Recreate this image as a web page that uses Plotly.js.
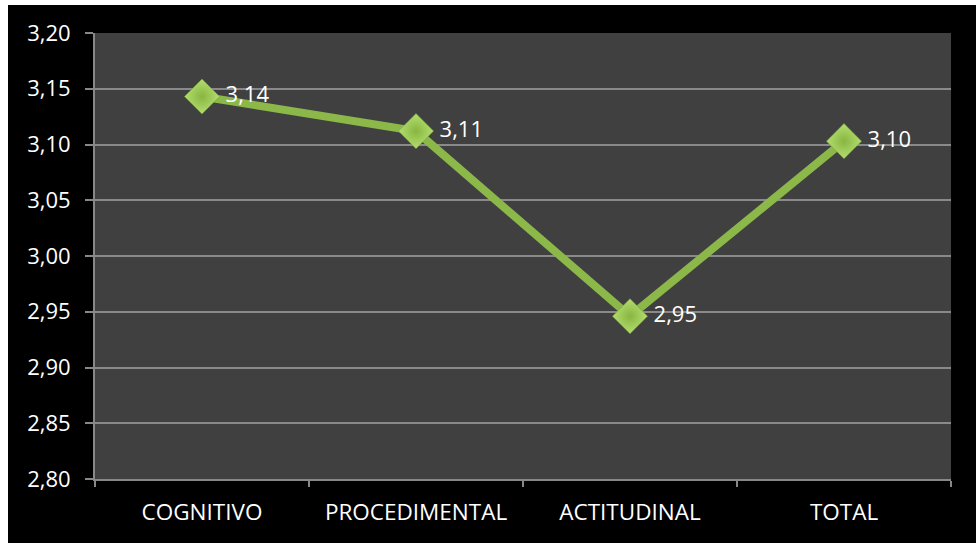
<!DOCTYPE html>
<html>
<head>
<meta charset="utf-8">
<script src="https://cdn.plot.ly/plotly-3.0.1.min.js"></script>
<style>
html,body{margin:0;padding:0;background:#ffffff;overflow:hidden;}
#chart{position:absolute;left:8px;top:5px;width:968px;height:538px;}
</style>
</head>
<body>
<div id="chart"></div>
<script>
const categories = ["COGNITIVO", "PROCEDIMENTAL", "ACTITUDINAL", "TOTAL"];
const values = [3.143, 3.112, 2.946, 3.103];
const yTickVals = [2.80, 2.85, 2.90, 2.95, 3.00, 3.05, 3.10, 3.15, 3.20];

const FONT = "Open Sans, Noto Sans, sans-serif";

const trace = {
  type: "scatter",
  mode: "lines+markers+text",
  x: categories,
  y: values,
  texttemplate: "\u00a0%{y:.2f}",
  textposition: "middle right",
  textfont: {family: FONT, size: 22, color: "#ffffff"},
  line: {color: "#8cb84a", width: 8},
  marker: {
    symbol: "diamond",
    size: 27,
    color: "#b4de70",
    gradient: {type: "radial", color: "#88b640"},
    line: {color: "#6e9a30", width: 0.5}
  },
  cliponaxis: false,
  hoverinfo: "skip"
};

const layout = {
  width: 968,
  height: 538,
  margin: {l: 87, r: 25, t: 28, b: 64},
  paper_bgcolor: "#000000",
  plot_bgcolor: "#404040",
  separators: ",.",
  showlegend: false,
  font: {family: FONT, color: "#ffffff", size: 22},
  xaxis: {
    type: "category",
    range: [-0.5, 3.5],
    tickson: "boundaries",
    ticks: "outside",
    ticklen: 6,
    tickcolor: "#888888",
    tickwidth: 2,
    showline: true,
    linecolor: "#888888",
    linewidth: 2,
    showgrid: false,
    tickfont: {family: FONT, size: 22.5, color: "#ffffff"},
    ticklabelstandoff: 12
  },
  yaxis: {
    range: [2.80, 3.20],
    tickvals: yTickVals,
    tickformat: ".2f",
    ticks: "outside",
    ticklen: 8,
    tickcolor: "#888888",
    tickwidth: 2,
    showline: true,
    linecolor: "#888888",
    linewidth: 2,
    showgrid: true,
    gridcolor: "#8a8a8a",
    gridwidth: 2,
    zeroline: false,
    tickfont: {family: FONT, size: 22, color: "#ffffff"},
    ticklabelstandoff: 10
  }
};

Plotly.newPlot("chart", [trace], layout, {displayModeBar: false, staticPlot: true});
</script>
</body>
</html>
